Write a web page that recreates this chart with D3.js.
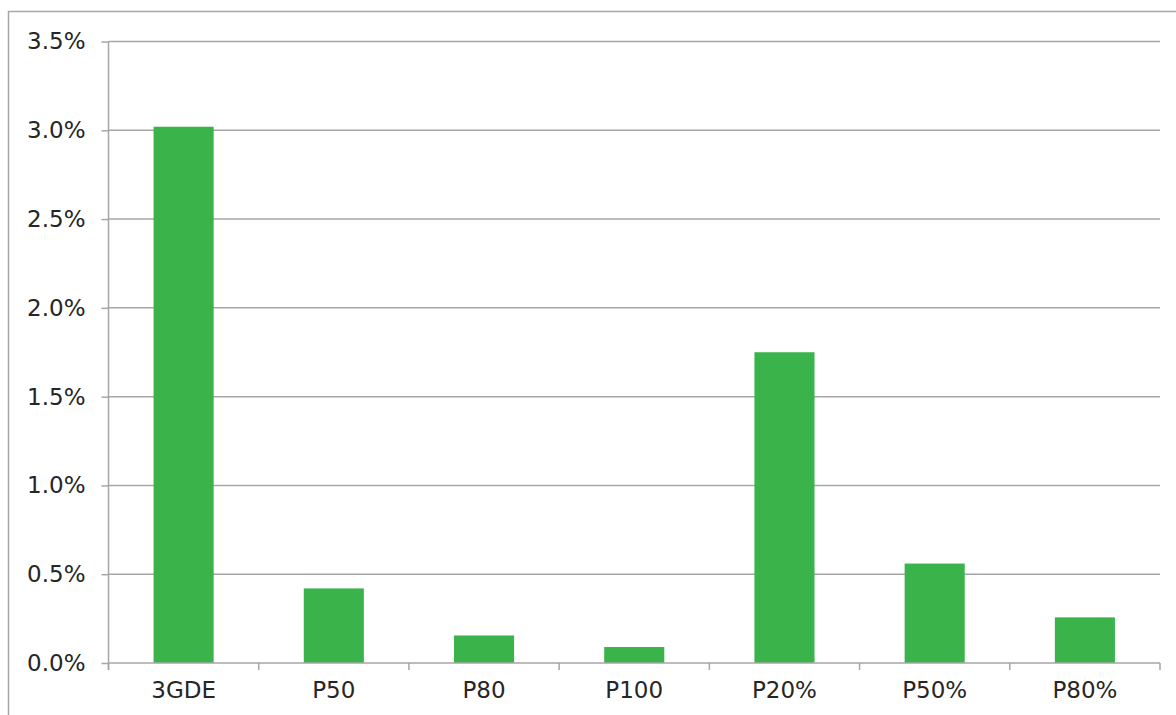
<!DOCTYPE html>
<html>
<head>
<meta charset="utf-8">
<script src="https://cdn.jsdelivr.net/npm/d3@7/dist/d3.min.js"></script>
<style>
  html, body { margin: 0; padding: 0; background: #ffffff; }
  svg { display: block; }
</style>
</head>
<body>
<svg id="chart" width="1176" height="715"></svg>
<script>
// Share by scenario
const categories = ["3GDE", "P50", "P80", "P100", "P20%", "P50%", "P80%"];
const values = [0.0302, 0.0042, 0.00155, 0.0009, 0.0175, 0.0056, 0.00257];
const yTicks = [0, 0.005, 0.01, 0.015, 0.02, 0.025, 0.03, 0.035];

(function () {
  const svg = d3.select("#chart");
  const plotLeft = 108.5, plotRight = 1160, plotTop = 41.5, plotBottom = 663;
  const gridColor = "#a6a6a6";
  const textColor = "#262626";
  const font = "'DejaVu Sans', Verdana, sans-serif";
  const fontSize = "23px";

  // Chart-area frame
  svg.append("rect")
    .attr("x", 8.5).attr("y", 11.5)
    .attr("width", 1300).attr("height", 900)
    .attr("fill", "none")
    .attr("stroke", gridColor)
    .attr("stroke-width", 1.5);

  const x = d3.scaleBand()
    .domain(categories)
    .range([plotLeft, plotRight])
    .paddingInner(0.6)
    .paddingOuter(0.3);

  const y = d3.scaleLinear()
    .domain([0, 0.035])
    .range([plotBottom, plotTop]);

  // Horizontal gridlines
  svg.append("g")
    .selectAll("line")
    .data(yTicks.filter(d => d > 0))
    .join("line")
    .attr("x1", plotLeft).attr("x2", plotRight)
    .attr("y1", d => y(d)).attr("y2", d => y(d))
    .attr("stroke", gridColor)
    .attr("stroke-width", 1.5);

  // Bars
  svg.append("g")
    .selectAll("rect")
    .data(categories.map((c, i) => ({ c, v: values[i] })))
    .join("rect")
    .attr("x", d => x(d.c))
    .attr("width", x.bandwidth())
    .attr("y", d => y(d.v))
    .attr("height", d => y(0) - y(d.v))
    .attr("fill", "#39b34a");

  // Y axis
  const yAxis = d3.axisLeft(y)
    .tickValues(yTicks)
    .tickFormat(d3.format(".1%"))
    .tickSize(7)
    .tickPadding(16);

  const gy = svg.append("g")
    .attr("transform", `translate(${plotLeft},0)`)
    .call(yAxis);
  gy.select(".domain").remove();
  gy.append("line")
    .attr("x1", 0).attr("x2", 0)
    .attr("y1", plotTop).attr("y2", plotBottom + 7)
    .attr("stroke", gridColor).attr("stroke-width", 1.5);
  gy.selectAll(".tick line").attr("stroke", gridColor).attr("stroke-width", 1.5);
  gy.selectAll(".tick text")
    .attr("fill", textColor)
    .style("font-family", font)
    .style("font-size", fontSize);

  // X axis: baseline plus ticks at category boundaries
  const boundaries = d3.range(categories.length + 1)
    .map(i => plotLeft + i * (plotRight - plotLeft) / categories.length);
  const gx = svg.append("g");
  gx.append("line")
    .attr("x1", plotLeft).attr("x2", plotRight)
    .attr("y1", plotBottom).attr("y2", plotBottom)
    .attr("stroke", gridColor).attr("stroke-width", 1.5);
  gx.selectAll("line.tk")
    .data(boundaries)
    .join("line")
    .attr("class", "tk")
    .attr("x1", d => d).attr("x2", d => d)
    .attr("y1", plotBottom).attr("y2", plotBottom + 7)
    .attr("stroke", gridColor).attr("stroke-width", 1.5);
  gx.selectAll("text")
    .data(categories)
    .join("text")
    .attr("x", d => x(d) + x.bandwidth() / 2)
    .attr("y", 698)
    .attr("text-anchor", "middle")
    .attr("fill", textColor)
    .style("font-family", font)
    .style("font-size", fontSize)
    .text(d => d);
})();
</script>
</body>
</html>
